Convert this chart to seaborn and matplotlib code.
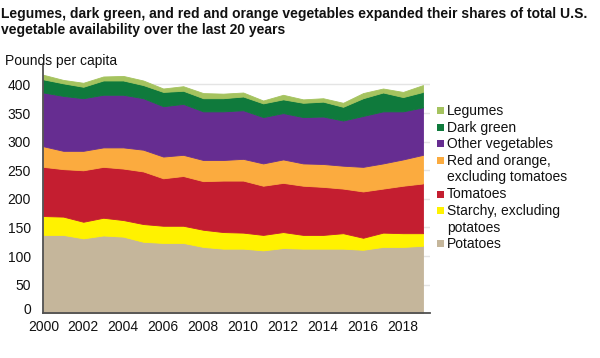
import numpy as np
import pandas as pd
import matplotlib
matplotlib.use("Agg")
import matplotlib.pyplot as plt
import matplotlib.transforms as mtransforms
from matplotlib.patches import Rectangle
import seaborn as sns

# -------------------------------
# Data (pounds per capita)
# -------------------------------
years = list(range(2000, 2020))
potatoes = [137, 137, 131, 136, 134, 125, 123, 123, 116, 113, 113, 110, 114, 113, 113, 113, 111, 116, 116, 118]
starchy = [33, 32, 29, 31, 29, 31, 30, 30, 30, 29, 28, 27, 28, 24, 24, 27, 21, 25, 24, 22]
tomatoes = [86, 83, 90, 89, 90, 92, 83, 87, 85, 90, 91, 86, 86, 86, 84, 78, 81, 77, 83, 87]
red_orange = [36, 32, 34, 34, 37, 38, 38, 37, 37, 36, 38, 39, 41, 39, 40, 40, 43, 44, 46, 50]
other_veg = [94, 96, 92, 92, 92, 90, 88, 89, 85, 85, 85, 81, 81, 81, 83, 79, 89, 91, 84, 83]
dark_green = [23, 22, 20, 25, 25, 23, 25, 23, 23, 23, 24, 24, 24, 25, 26, 24, 31, 33, 25, 27]
legumes = [8, 6, 7, 7, 8, 8, 6, 8, 9, 8, 7, 5, 8, 6, 6, 7, 9, 7, 9, 12]

# bottom-to-top stacking order
series_names = ["Potatoes", "Starchy, excluding\npotatoes", "Tomatoes",
                "Red and orange,\nexcluding tomatoes", "Other vegetables",
                "Dark green", "Legumes"]
colors = ["#c5b69b", "#fff200", "#c41e30", "#fbab3f", "#662d91", "#0f7a3c", "#a5c35f"]

df = pd.DataFrame({
    "Year": years,
    series_names[0]: potatoes,
    series_names[1]: starchy,
    series_names[2]: tomatoes,
    series_names[3]: red_orange,
    series_names[4]: other_veg,
    series_names[5]: dark_green,
    series_names[6]: legumes,
})

# -------------------------------
# Style
# -------------------------------
sns.set_style("white")
plt.rcParams["font.family"] = ["Liberation Sans", "DejaVu Sans"]

fig = plt.figure(figsize=(6.0, 3.58), dpi=100)
ax = fig.add_axes([0.0722, 0.1249, 0.6445, 0.6934])

polys = ax.stackplot(df["Year"], df[series_names].T.values, colors=colors,
                     linewidth=0.6, zorder=2)
for p in polys:
    p.set_edgecolor("face")

ax.set_xlim(2000, 2019.35)
ax.set_ylim(0, 434)
ax.set_yticks(range(0, 401, 50))
ax.set_xticks(range(2000, 2019, 2))
ax.yaxis.grid(True, color="#e4e4e4", linewidth=1.0, zorder=0)
ax.set_axisbelow(True)

sns.despine(ax=ax)
for s in ["left", "bottom"]:
    ax.spines[s].set_color("#505050")
    ax.spines[s].set_linewidth(1.3)

ax.tick_params(axis="y", direction="out", length=4, width=1, color="#aaaaaa",
               labelsize=10, pad=5, labelcolor="#111111")
ax.tick_params(axis="x", direction="in", length=3, width=1, color="#aaaaaa",
               labelsize=10, pad=5, labelcolor="#111111")

# the "0" label sits a little above the axis line in the original
zero_lab = ax.yaxis.get_major_ticks()[0].label1
zero_lab.set_transform(zero_lab.get_transform()
                       + mtransforms.ScaledTranslation(0, 5 / 100, fig.dpi_scale_trans))

# -------------------------------
# Titles
# -------------------------------
fig.text(0.002, 1 - 7 / 358,
         "Legumes, dark green, and red and orange vegetables expanded their shares of total U.S.\n"
         "vegetable availability over the last 20 years",
         fontsize=10, fontweight="bold", va="top", ha="left", linespacing=1.15, color="#111111")
fig.text(5 / 600, 1 - 61 / 358, "Pounds per capita", fontsize=10, va="center", ha="left",
         color="#111111")

# -------------------------------
# Legend (top entry first, square aligned with the first text line)
# -------------------------------
row_centers = [110.7, 127.3, 143.3, 160, 194, 210.7, 243]
for name, col, yc in zip(series_names[::-1], colors[::-1], row_centers):
    fig.add_artist(Rectangle((437 / 600, 1 - (yc + 3.5) / 358), 7 / 600, 7 / 358,
                             transform=fig.transFigure, facecolor=col, edgecolor="none"))
    for i, line in enumerate(name.split("\n")):
        fig.text(447 / 600, 1 - (yc + 4.5 + i * 16.7) / 358, line, fontsize=10,
                 va="baseline", ha="left", color="#111111")

fig.savefig("out.png", dpi=100)
